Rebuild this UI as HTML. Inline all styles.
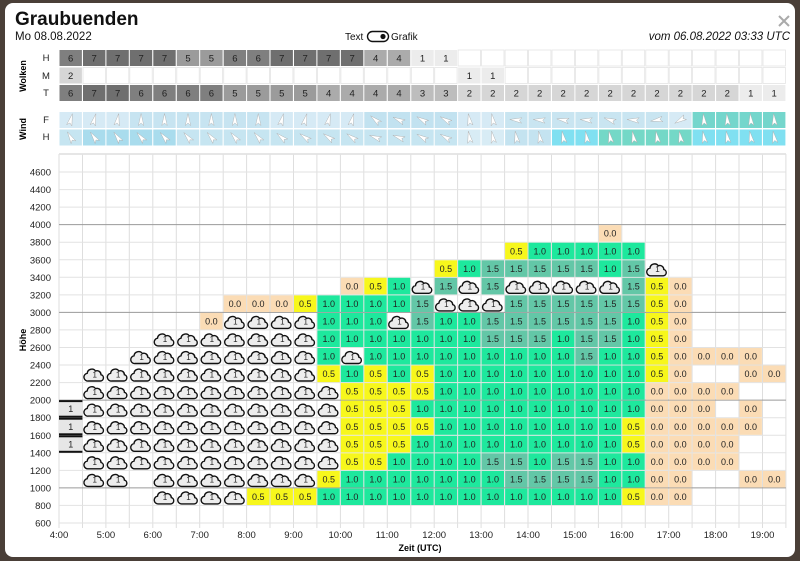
<!DOCTYPE html>
<html><head><meta charset="utf-8">
<style>
html,body{margin:0;padding:0;width:800px;height:561px;overflow:hidden;background:#4a3f38;font-family:"Liberation Sans",sans-serif;}
#card{position:absolute;left:5px;top:3px;width:790px;height:554px;background:#fff;border-radius:8px;}
svg{position:absolute;left:0;top:0;}
</style></head><body>
<div id="card"></div>
<div id="root"></div>
<script>
var X0=59,CW=23.45,Y600=523,RH=17.55;
var s='<svg width="800" height="561" xmlns="http://www.w3.org/2000/svg" font-family="Liberation Sans, sans-serif">';
s+='<text x="15" y="25" font-size="19" font-weight="bold" fill="#111">Graubuenden</text>';
s+='<text x="15" y="40" font-size="11.5" fill="#111">Mo 08.08.2022</text>';
s+='<text x="345" y="40" font-size="10" fill="#111">Text</text>';
s+='<rect x="367.5" y="31.5" width="21" height="10" rx="5" fill="#fff" stroke="#111" stroke-width="1.4"/><circle cx="383" cy="36.5" r="2.6" fill="#111"/>';
s+='<text x="391" y="40" font-size="10" fill="#111">Grafik</text>';
s+='<text x="790" y="40" font-size="11.5" font-style="italic" text-anchor="end" fill="#111">vom 06.08.2022 03:33 UTC</text>';
s+='<path d="M779,16 L789,26 M789,16 L779,26" stroke="#aaa" stroke-width="2"/>';
s+='<text transform="translate(26,76) rotate(-90)" font-size="9" font-weight="bold" text-anchor="middle">Wolken</text>';
s+='<text transform="translate(26,129) rotate(-90)" font-size="9" font-weight="bold" text-anchor="middle">Wind</text>';
s+='<text transform="translate(26,340) rotate(-90)" font-size="9" font-weight="bold" text-anchor="middle">Höhe</text>';
[['H',61],['M',79],['T',96],['F',123],['H',140]].forEach(function(a){s+='<text x="46" y="'+a[1]+'" font-size="9.5" text-anchor="middle" fill="#222">'+a[0]+'</text>';});
var gcol={7:'#6f6f6f',6:'#7f7f7f',5:'#9b9b9b',4:'#ababab',3:'#bdbdbd',2:'#d6d6d6',1:'#ececec'};
var Hc=[6,7,7,7,7,5,5,6,6,7,7,7,7,4,4,1,1];
var Mc=[2,0,0,0,0,0,0,0,0,0,0,0,0,0,0,0,0,1,1];
var Tc=[6,7,7,6,6,6,6,5,5,5,5,4,4,4,4,3,3,2,2,2,2,2,2,2,2,2,2,2,2,1,1];
function crow(arr,y){for(var i=0;i<31;i++){var v=arr[i]||0;var x=X0+i*CW;
 if(v){s+='<rect x="'+(x+0.5).toFixed(1)+'" y="'+y+'" width="'+(CW-1).toFixed(1)+'" height="16" fill="'+gcol[v]+'"/>';
 s+='<text x="'+(x+CW/2).toFixed(1)+'" y="'+(y+11.5)+'" font-size="9.5" text-anchor="middle" fill="#222">'+v+'</text>';}
 else s+='<rect x="'+(x+0.5).toFixed(1)+'" y="'+y+'" width="'+(CW-1).toFixed(1)+'" height="16" fill="#fff" stroke="#e4e4e4" stroke-width="0.8"/>';}}
crow(Hc,50);crow(Mc,67.5);crow(Tc,85);
var Fcol=[],Hcol=[];
for(var i=0;i<31;i++){
 var f='#d6eaf5';if(i>=3&&i<=8)f='#c7e4f1';if(i>=13&&i<=16)f='#c2e2f0';if(i>=19&&i<=25)f='#c9e5f1';if(i>=27)f='#74d6cc';Fcol.push(f);
 var h='#c6e5f1';if(i>=1&&i<=4)h='#a9dced';if(i>=17&&i<=18)h='#d8ecf5';if(i>=19&&i<=20)h='#c4e3f0';if(i==21||i==22||i>=27)h='#80e0f1';if(i>=23&&i<=26)h='#74d8c7';Hcol.push(h);}
var Fang=[195,195,190,180,180,180,180,180,180,195,195,195,195,130,115,120,120,170,170,95,95,100,95,110,95,80,60,175,175,175,175];
var Hang=[150,145,145,140,140,140,140,140,140,130,125,125,125,110,110,120,120,170,170,170,170,170,170,170,170,170,170,170,170,170,170];
function arrow(cx,cy,a){return '<g transform="translate('+cx.toFixed(1)+','+cy+') rotate('+a+')"><path d="M0,6.5 L-2.7,-5.5 L0,-3 L2.7,-5.5 Z" fill="#fff" stroke="#aaa" stroke-width="0.4"/></g>';}
for(var i=0;i<31;i++){var x=X0+i*CW;
 s+='<rect x="'+(x+0.5).toFixed(1)+'" y="112" width="'+(CW-1).toFixed(1)+'" height="16" fill="'+Fcol[i]+'"/>';
 s+='<rect x="'+(x+0.5).toFixed(1)+'" y="129.5" width="'+(CW-1).toFixed(1)+'" height="16" fill="'+Hcol[i]+'"/>';
 s+=arrow(x+CW/2,120,Fang[i]);s+=arrow(x+CW/2,137.5,Hang[i]);}
var XE=X0+31*CW;
s+='<line x1="'+X0+'" y1="153.5" x2="'+XE+'" y2="153.5" stroke="#e6e6e6"/>';
for(var i=0;i<=31;i++){var x=X0+i*CW;s+='<line x1="'+x.toFixed(1)+'" y1="154" x2="'+x.toFixed(1)+'" y2="'+(Y600+5)+'" stroke="#dedede" stroke-width="1"/>';}
for(var k=0;k<=21;k++){var y=Y600-k*RH;var lv=600+k*200;var dark=(lv%1000==0);
 s+='<line x1="'+X0+'" y1="'+y.toFixed(1)+'" x2="'+XE.toFixed(1)+'" y2="'+y.toFixed(1)+'" stroke="'+(dark?'#9a9a9a':'#e2e2e2')+'" stroke-width="1"/>';
 if(lv<=4600)s+='<text x="51" y="'+(y+3.5).toFixed(1)+'" font-size="9.5" text-anchor="end" fill="#222">'+lv+'</text>';}
for(var h=4;h<=19;h++){s+='<text x="'+(X0+(h-4)*2*CW).toFixed(1)+'" y="538" font-size="9.5" text-anchor="middle" fill="#222">'+h+':00</text>';}
s+='<text x="420" y="551" font-size="9" font-weight="bold" text-anchor="middle">Zeit (UTC)</text>';
var rows=[[3800,23,"a"],[3600,19,"bccccc"],[3400,16,"bcdddddcdC"],[3200,12,"abcCdCdCCCCCdba"],
[3000,7,"aaabccccdCCCddddddba"],[2800,6,"aCCCCcccCdccddddddcba"],
[2600,4,"CCCCCCCcccccccdddcddcba"],[2400,3,"CCCCCCCCcCcccccccccdccbaaaa"],
[2200,1,"CCCCCCCCCCbcbcbcccccccccba--aa"],[2000,1,"CCCCCCCCCCCbbbbcccccccccaaaa"],
[1800,0,"LCCCCCCCCCCCbbbccccccccccaaa-a"],[1600,0,"LCCCCCCCCCCCbbbbccccccccbaaaaa"],
[1400,0,"LCCCCCCCCCCCbbbcccccccccbaaaa"],[1200,1,"CCCCCCCCCCCbbccccddcddccaaaa"],
[1000,1,"CC-CCCCCCCbcccccccddddccaa--aa"],[800,4,"CCCCbbbcccccccccccccbaa"]];
var col={a:'#fbdcb5',b:'#f7f71c',c:'#1ee89d',d:'#63c7a7'},txt={a:'0.0',b:'0.5',c:'1.0',d:'1.5'};
var cloud='M4.5,15.5 H16.5 A3.2,3.2 0 0 0 17,9.2 A4,4 0 0 0 11.5,5.5 A4.6,4.6 0 0 0 3.2,7.8 A3.9,3.9 0 0 0 4.5,15.5 Z';
rows.forEach(function(r){var yt=Y600-((r[0]-600)/200+1)*RH;var cy=yt+RH/2;
 for(var j=0;j<r[2].length;j++){var ch=r[2][j];var i=r[1]+j;var x=X0+i*CW;
  if(ch=='-')continue;
  if(col[ch]){s+='<rect x="'+(x+0.5).toFixed(1)+'" y="'+(yt+0.5).toFixed(1)+'" width="'+(CW-1).toFixed(1)+'" height="'+(RH-1).toFixed(1)+'" fill="'+col[ch]+'"/>';
   s+='<text x="'+(x+CW/2).toFixed(1)+'" y="'+(cy+3.3).toFixed(1)+'" font-size="9" text-anchor="middle" fill="#222">'+txt[ch]+'</text>';}
  else if(ch=='C'){s+='<g transform="translate('+(x+1.5).toFixed(1)+','+(yt+0.5).toFixed(1)+')"><path d="'+cloud+'" fill="#ededed" stroke="#111" stroke-width="1.4"/></g>';
   s+='<text x="'+(x+CW/2+0.5).toFixed(1)+'" y="'+(cy+3.5).toFixed(1)+'" font-size="8" text-anchor="middle" fill="#222">1</text>';}
  else if(ch=='L'){s+='<rect x="'+x.toFixed(1)+'" y="'+yt.toFixed(1)+'" width="'+CW.toFixed(1)+'" height="'+RH.toFixed(1)+'" fill="#e6e6e6"/>';
   s+='<rect x="'+x.toFixed(1)+'" y="'+(yt).toFixed(1)+'" width="'+CW.toFixed(1)+'" height="2" fill="#111"/>';
   s+='<rect x="'+x.toFixed(1)+'" y="'+(yt+RH-2).toFixed(1)+'" width="'+CW.toFixed(1)+'" height="2" fill="#111"/>';
   s+='<text x="'+(x+CW/2).toFixed(1)+'" y="'+(cy+3.3).toFixed(1)+'" font-size="9" text-anchor="middle" fill="#222">1</text>';}
 }});
s+='</svg>';
document.getElementById('root').innerHTML=s;
</script>
</body></html>
